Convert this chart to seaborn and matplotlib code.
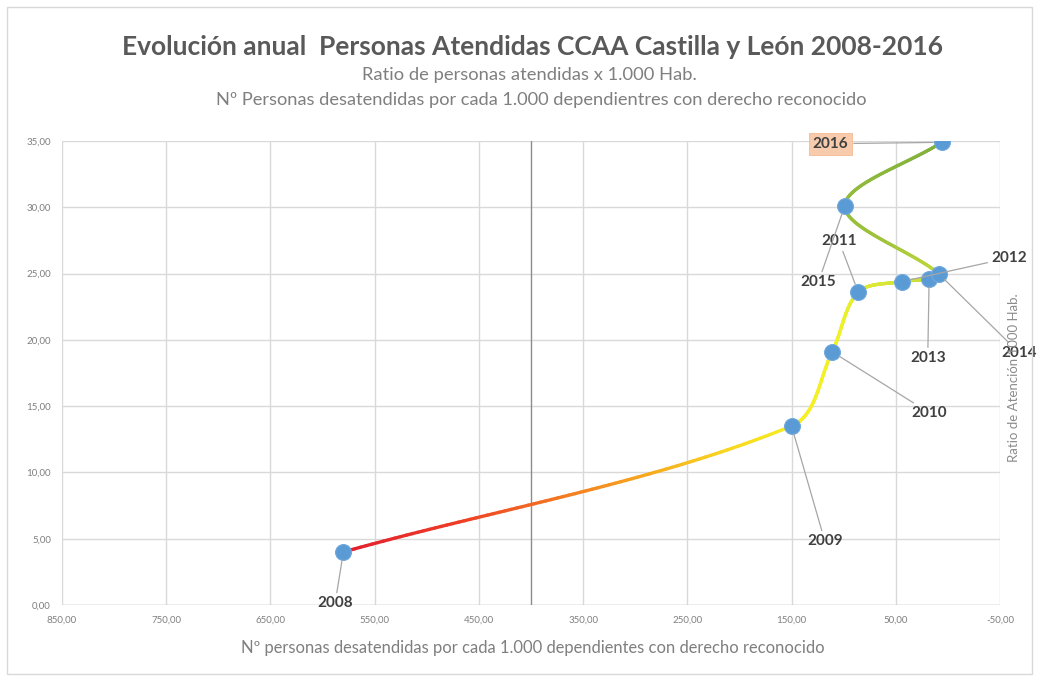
import numpy as np
import pandas as pd
import matplotlib
matplotlib.use("Agg")
import matplotlib.pyplot as plt
import seaborn as sns
from matplotlib.collections import LineCollection
from matplotlib.colors import LinearSegmentedColormap
from matplotlib.patches import Rectangle

# ---------------- data ----------------
years = ["2008", "2009", "2010", "2011", "2012", "2013", "2014", "2015", "2016"]
desatendidas = [580.0, 150.0, 111.0, 86.0, 44.0, 18.0, 9.0, 99.0, 6.0]   # x
ratio_atencion = [4.0, 13.5, 19.1, 23.6, 24.4, 24.6, 25.0, 30.1, 34.9]  # y
x_ticks = [850, 750, 650, 550, 450, 350, 250, 150, 50, -50]
y_ticks = [0, 5, 10, 15, 20, 25, 30, 35]

title = "Evolución anual  Personas Atendidas CCAA Castilla y León 2008-2016"
subtitle1 = "Ratio de personas atendidas x 1.000 Hab."
subtitle2 = "Nº Personas desatendidas por cada 1.000 dependientres con derecho reconocido"
xlabel = "Nº personas desatendidas por cada 1.000 dependientes con derecho reconocido"
ylabel = "Ratio de Atención 1000 Hab."

# label offsets (points) relative to each marker
label_offsets = {
    "2008": (-6, -37), "2009": (24, -83), "2010": (70, -44),
    "2011": (-14, 37), "2012": (77, 17), "2013": (-1, -57),
    "2014": (58, -57), "2015": (-19, -55), "2016": (-80, -1),
}

# ---------------- figure ----------------
sns.set_theme(style="white")
plt.rcParams["font.family"] = ["Lato", "DejaVu Sans"]

W, H, DPI = 1039, 681, 100
fig = plt.figure(figsize=(W / DPI, H / DPI), dpi=DPI)
fig.patch.set_facecolor("white")
ax = fig.add_axes([62 / W, 1 - 605 / H, (1000 - 62) / W, (605 - 141) / H])

ax.set_xlim(850, -50)
ax.set_ylim(0, 35)
ax.set_xticks(x_ticks)
ax.set_yticks(y_ticks)
ax.set_xticklabels([f"{v:.2f}".replace(".", ",") for v in x_ticks])
ax.set_yticklabels([f"{v:.2f}".replace(".", ",") for v in y_ticks])
ax.tick_params(axis="both", length=0, labelsize=7, colors="#7f7f7f", pad=8)
ax.grid(True, color="#d9d9d9", lw=1)
for s in ax.spines.values():
    s.set_visible(False)
ax.axhline(0, color="#bfbfbf", lw=1, zorder=1)
ax.axvline(400, color="#8c8c8c", lw=1, zorder=1)

# ---------------- smoothed gradient line ----------------
axw, axh = (1000 - 62), (605 - 141)
px = (850 - np.array(desatendidas)) / 900 * axw
py = np.array(ratio_atencion) / 35 * axh
P = np.column_stack([px, py])
Pp = np.vstack([P[0], P, P[-1]])
curve = []
for i in range(1, len(Pp) - 2):
    p0, p1, p2, p3 = Pp[i - 1], Pp[i], Pp[i + 1], Pp[i + 2]
    l01 = np.linalg.norm(p1 - p0)
    l12 = np.linalg.norm(p2 - p1)
    l23 = np.linalg.norm(p3 - p2)
    t1 = (p2 - p0) * (l12 / (l01 + l12)) if (l01 + l12) > 0 else p2 - p1
    t2 = (p3 - p1) * (l12 / (l12 + l23)) if (l12 + l23) > 0 else p2 - p1
    c1 = p1 + t1 / 3
    c2 = p2 - t2 / 3
    t = np.linspace(0, 1, 80)[:, None]
    seg = ((1 - t) ** 3) * p1 + 3 * ((1 - t) ** 2) * t * c1 + 3 * (1 - t) * t ** 2 * c2 + t ** 3 * p2
    curve.append(seg if i == 1 else seg[1:])
curve = np.vstack(curve)
cx = 850 - curve[:, 0] / axw * 900
cy = curve[:, 1] / axh * 35
d = np.r_[0, np.cumsum(np.hypot(np.diff(curve[:, 0]), np.diff(curve[:, 1])))]
frac = d / d[-1]
cmap = LinearSegmentedColormap.from_list("grad", [
    (0.0, "#e0202e"), (0.12, "#ee3a26"), (0.27, "#f58920"), (0.42, "#f8d51e"),
    (0.5, "#f7ef22"), (0.62, "#eef12a"), (0.72, "#cfe23a"), (0.82, "#9fc43b"),
    (1.0, "#7fb03d")])
pts = np.column_stack([cx, cy]).reshape(-1, 1, 2)
segs = np.concatenate([pts[:-1], pts[1:]], axis=1)
lc = LineCollection(segs, colors=cmap((frac[:-1] + frac[1:]) / 2), linewidths=2.4,
                    capstyle="round", zorder=3)
ax.add_collection(lc)

# ---------------- markers ----------------
df = pd.DataFrame({"year": years, "x": desatendidas, "y": ratio_atencion})
sns.scatterplot(data=df, x="x", y="y", ax=ax, color="#5b9bd5", s=130,
                edgecolor="#6fa8dc", linewidth=0.8, zorder=5, legend=False)
ax.set_xlabel("")
ax.set_ylabel("")

# ---------------- data labels ----------------
for yr, xv, yv in zip(years, desatendidas, ratio_atencion):
    dx, dy = label_offsets[yr]
    if yr == "2016":
        bbox = dict(boxstyle="square,pad=0.25", fc="#f8cbad", ec="#f4b183", lw=0.5)
    else:
        bbox = dict(boxstyle="square,pad=0.15", fc="none", ec="none")
    ax.annotate(yr, xy=(xv, yv), xytext=(dx, dy), textcoords="offset points",
                ha="center", va="center", fontsize=11, fontweight="bold",
                color="#404040", bbox=bbox, annotation_clip=False, zorder=6,
                arrowprops=dict(arrowstyle="-", color="#a6a6a6", lw=0.9,
                                shrinkA=1, shrinkB=6))

# ---------------- texts ----------------
t_title = fig.text(533 / W, 1 - 47 / H, title, ha="center", va="center",
                   fontsize=16, fontweight="bold", color="#595959")
t_s1 = fig.text(529 / W, 1 - 75 / H, subtitle1, ha="center", va="center",
                fontsize=9, color="#7f7f7f")
t_s2 = fig.text(541 / W, 1 - 100 / H, subtitle2, ha="center", va="center",
                fontsize=9, color="#7f7f7f")
t_xl = fig.text(533 / W, 1 - 648 / H, xlabel, ha="center", va="center",
                fontsize=9, color="#7f7f7f")
t_yl = fig.text(1014 / W, 1 - 378 / H, ylabel, ha="center", va="center", rotation=90,
                fontsize=9.5, color="#8c8c8c")

fig.canvas.draw()
r = fig.canvas.get_renderer()
for txt, target in [(t_title, 823), (t_s1, 335), (t_s2, 655), (t_xl, 585)]:
    w = txt.get_window_extent(r).width
    txt.set_fontsize(txt.get_fontsize() * target / w)

fig.add_artist(Rectangle((7 / W, 7 / H), (1032 - 7) / W, (674 - 7) / H,
                         transform=fig.transFigure, fill=False, ec="#d9d9d9", lw=1))

fig.savefig("out.png", dpi=DPI, facecolor="white")
